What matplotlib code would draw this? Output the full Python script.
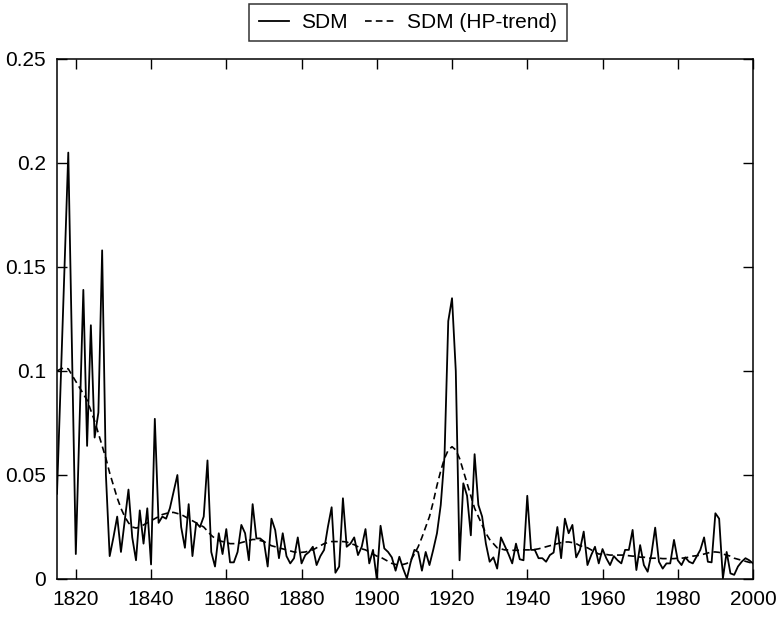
import matplotlib
matplotlib.use("Agg")
import matplotlib.pyplot as plt
import numpy as np

plt.rcParams['font.family'] = ['Liberation Sans', 'DejaVu Sans']

start_year = 1815
sdm = [
    0.041, 0.095, 0.150, 0.205, 0.108, 0.012, 0.075, 0.139, 0.064, 0.122,   # 1815-1824
    0.068, 0.080, 0.158, 0.050, 0.011, 0.020, 0.030, 0.013, 0.028, 0.043,   # 1825-1834
    0.020, 0.009, 0.033, 0.017, 0.034, 0.007, 0.077, 0.027, 0.030, 0.029,   # 1835-1844
    0.034, 0.042, 0.050, 0.025, 0.015, 0.036, 0.011, 0.027, 0.025, 0.030,   # 1845-1854
    0.057, 0.013, 0.006, 0.022, 0.012, 0.024, 0.008, 0.008, 0.013, 0.026,   # 1855-1864
    0.022, 0.009, 0.036, 0.0195, 0.0195, 0.018, 0.006, 0.029, 0.0235, 0.010,  # 1865-1874
    0.022, 0.011, 0.0075, 0.010, 0.020, 0.0075, 0.0115, 0.013, 0.0155, 0.0067,  # 1875-1884
    0.011, 0.014, 0.025, 0.0345, 0.003, 0.006, 0.0388, 0.0155, 0.017, 0.020,  # 1885-1894
    0.0115, 0.0155, 0.024, 0.0075, 0.014, 0.000, 0.0256, 0.0147, 0.013, 0.0104,  # 1895-1904
    0.004, 0.0107, 0.005, 0.0003, 0.008, 0.014, 0.013, 0.004, 0.013, 0.0067,  # 1905-1914
    0.014, 0.022, 0.0356, 0.059, 0.124, 0.135, 0.100, 0.009, 0.046, 0.040,   # 1915-1924
    0.021, 0.060, 0.0356, 0.030, 0.017, 0.0083, 0.0104, 0.005, 0.020, 0.016,  # 1925-1934
    0.012, 0.0075, 0.017, 0.0095, 0.009, 0.040, 0.014, 0.014, 0.010, 0.010,  # 1935-1944
    0.0083, 0.0115, 0.0127, 0.025, 0.010, 0.029, 0.022, 0.026, 0.0104, 0.014,  # 1945-1954
    0.0228, 0.0067, 0.0115, 0.0155, 0.0075, 0.0144, 0.010, 0.0067, 0.011, 0.009,  # 1955-1964
    0.0075, 0.014, 0.014, 0.0236, 0.0043, 0.0163, 0.0067, 0.0035, 0.012, 0.0247,  # 1965-1974
    0.0083, 0.005, 0.0075, 0.0075, 0.0188, 0.009, 0.0067, 0.0104, 0.0083, 0.0075,  # 1975-1984
    0.0107, 0.014, 0.020, 0.0083, 0.008, 0.0316, 0.029, 0.0003, 0.013, 0.0027,  # 1985-1994
    0.002, 0.006, 0.0083, 0.010, 0.009, 0.0075,                               # 1995-2000
]
sdm_trend = [
    0.100, 0.101, 0.1015, 0.101, 0.098, 0.095, 0.092, 0.089, 0.086, 0.081,   # 1815-1824
    0.076, 0.070, 0.064, 0.058, 0.051, 0.045, 0.039, 0.034, 0.030, 0.027,    # 1825-1834
    0.025, 0.0245, 0.025, 0.026, 0.027, 0.028, 0.029, 0.030, 0.031, 0.0315,  # 1835-1844
    0.032, 0.032, 0.0315, 0.031, 0.030, 0.029, 0.028, 0.027, 0.026, 0.025,   # 1845-1854
    0.023, 0.021, 0.0195, 0.0185, 0.018, 0.0175, 0.017, 0.017, 0.017, 0.0175,  # 1855-1864
    0.018, 0.0185, 0.019, 0.019, 0.0185, 0.018, 0.017, 0.016, 0.0155, 0.015,  # 1865-1874
    0.0145, 0.014, 0.0135, 0.013, 0.0128, 0.0128, 0.013, 0.0135, 0.014, 0.015,  # 1875-1884
    0.016, 0.017, 0.0175, 0.018, 0.018, 0.018, 0.018, 0.0178, 0.017, 0.0165,  # 1885-1894
    0.0155, 0.0145, 0.014, 0.013, 0.012, 0.011, 0.0105, 0.0095, 0.0085, 0.0075,  # 1895-1904
    0.007, 0.0068, 0.007, 0.0075, 0.009, 0.012, 0.0155, 0.020, 0.025, 0.030,  # 1905-1914
    0.037, 0.045, 0.052, 0.058, 0.062, 0.0636, 0.062, 0.058, 0.052, 0.046,   # 1915-1924
    0.040, 0.034, 0.030, 0.026, 0.022, 0.019, 0.017, 0.015, 0.0145, 0.014,   # 1925-1934
    0.014, 0.0138, 0.0138, 0.0138, 0.014, 0.014, 0.014, 0.0142, 0.0145, 0.015,  # 1935-1944
    0.0155, 0.016, 0.0165, 0.017, 0.0175, 0.0178, 0.0178, 0.0175, 0.017, 0.016,  # 1945-1954
    0.0155, 0.015, 0.014, 0.013, 0.012, 0.012, 0.0118, 0.0115, 0.0115, 0.0115,  # 1955-1964
    0.0115, 0.0115, 0.0112, 0.011, 0.011, 0.0105, 0.0105, 0.010, 0.010, 0.010,  # 1965-1974
    0.010, 0.0098, 0.0098, 0.0098, 0.0098, 0.010, 0.010, 0.0102, 0.0105, 0.011,  # 1975-1984
    0.0112, 0.0115, 0.012, 0.0125, 0.013, 0.013, 0.0128, 0.012, 0.0115, 0.011,  # 1985-1994
    0.010, 0.0095, 0.009, 0.0085, 0.008, 0.0075,                              # 1995-2000
]
years = np.arange(start_year, start_year + len(sdm))
x_ticks = [1820, 1840, 1860, 1880, 1900, 1920, 1940, 1960, 1980, 2000]
y_ticks = [0, 0.05, 0.1, 0.15, 0.2, 0.25]
y_tick_labels = ['0', '0.05', '0.1', '0.15', '0.2', '0.25']

fig = plt.figure(figsize=(7.8, 6.17), dpi=100)
ax = fig.add_axes([57/780, 1 - 579/617, (753-57)/780, (579-59)/617])

ax.plot(years, sdm, color='black', lw=1.3, label='SDM')
ax.plot(years, sdm_trend, color='black', lw=1.2, dashes=(4, 2.5), label='SDM (HP-trend)')

ax.set_xlim(1815, 2000)
ax.set_ylim(0, 0.25)
ax.set_xticks(x_ticks)
ax.set_yticks(y_ticks)
ax.set_yticklabels(y_tick_labels)
ax.tick_params(direction='in', top=True, right=True, length=7, width=1,
               labelsize=15, pad=8)
for s in ax.spines.values():
    s.set_linewidth(1.1)

leg = fig.legend(loc='center', bbox_to_anchor=(408/780, 1 - 22.5/617), ncol=2,
                 frameon=True, fancybox=False, edgecolor='black', fontsize=15,
                 handlelength=1.45, handletextpad=0.6, columnspacing=0.8,
                 borderpad=0.45, borderaxespad=0)
leg.get_frame().set_linewidth(1.1)

fig.savefig('out.png', dpi=100)
